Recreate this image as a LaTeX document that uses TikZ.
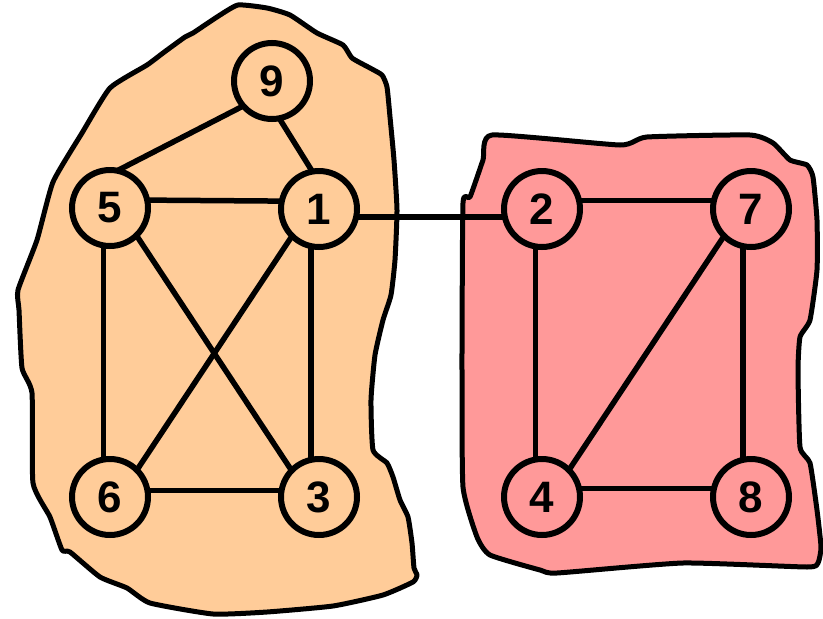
\documentclass[tikz,border=0pt]{standalone}
\usepackage{fontspec}
\setmainfont{Liberation Sans}
\usepackage{xcolor}
\usepackage{tikz}
\definecolor{GroupOrange}{HTML}{FFCC99}
\definecolor{GroupRed}{HTML}{FF9999}

\tikzset{
  vert/.style={circle, draw=black, line width=6pt, minimum size=76pt,
    inner sep=0pt, outer sep=0pt, font=\fontsize{44}{44}\selectfont\bfseries},
  link/.style={line width=5.5pt},
  blob/.style={draw=black, line width=5pt, line join=round},
}

\begin{document}
\begin{tikzpicture}[x=1pt, y=-1pt]

  \useasboundingbox (0,0) rectangle (823,619);

  %% Group outlines
  \filldraw[blob, fill=GroupOrange] plot[smooth cycle, tension=0.3] coordinates {
    (238,5) (267,8) (290,15) (317,33) (343,45) (352,58) (370,68) (382,75)
    (387,87) (390,117) (394,160) (397,210) (395,260) (391,295) (383,320)
    (375,355) (371,400) (373,450) (387,463) (393,477) (400,500) (408,517)
    (412,543) (414,568) (417,575) (413,582) (383,595) (333,606) (267,612)
    (213,614) (150,603) (127,588) (100,577) (70,552) (62,550) (50,517)
    (33,483) (32,393) (22,368) (19,310) (18,290) (37,240) (53,182) (82,133)
    (110,88) (147,65) (163,53) (185,37) (193,33) (217,17)};
  \filldraw[blob, fill=GroupRed] plot[smooth cycle, tension=0.3] coordinates {
    (492,135) (620,145) (647,137) (750,135) (773,143) (790,160) (807,165)
    (813,177) (817,220) (817,270) (810,320) (800,337) (798,370) (800,447)
    (810,463) (817,510) (821,547) (818,563) (807,567) (683,563) (557,573)
    (540,570) (490,555) (477,537) (463,487) (462,370) (462,353) (463,203)
    (470,197) (483,160)};

  %% Vertices
  \node[vert, fill=GroupOrange] (n9) at (272,81)  {9};
  \node[vert, fill=GroupOrange] (n5) at (110,208) {5};
  \node[vert, fill=GroupOrange] (n1) at (319,209) {1};
  \node[vert, fill=GroupOrange] (n6) at (110,497) {6};
  \node[vert, fill=GroupOrange] (n3) at (319,497) {3};
  \node[vert, fill=GroupRed]    (n2) at (542,209) {2};
  \node[vert, fill=GroupRed]    (n7) at (751,209) {7};
  \node[vert, fill=GroupRed]    (n4) at (542,497) {4};
  \node[vert, fill=GroupRed]    (n8) at (751,497) {8};

  %% Edges
  \draw[link] (n9.221) -- (n5.79);
  \draw[link] (n9.281) -- (n1.100);
  \draw[link] (n5.12)  -- (n1.168);
  \draw[link] (n5.260) -- (n6.100);
  \draw[link] (n5.314) -- (n3.136);
  \draw[link] (n1.225) -- (n6.45);
  \draw[link] (n1.258) -- (n3.102);
  \draw[link] (n6.10)  -- (n3.170);
  \draw[link] (n1.348) -- (n2.192);
  \draw[link] (n2.13)  -- (n7.167);
  \draw[link] (n2.260) -- (n4.100);
  \draw[link] (n7.258) -- (n8.102);
  \draw[link] (n4.13)  -- (n8.167);
  \draw[link] (n7.225) -- (n4.45);

\end{tikzpicture}
\end{document}
